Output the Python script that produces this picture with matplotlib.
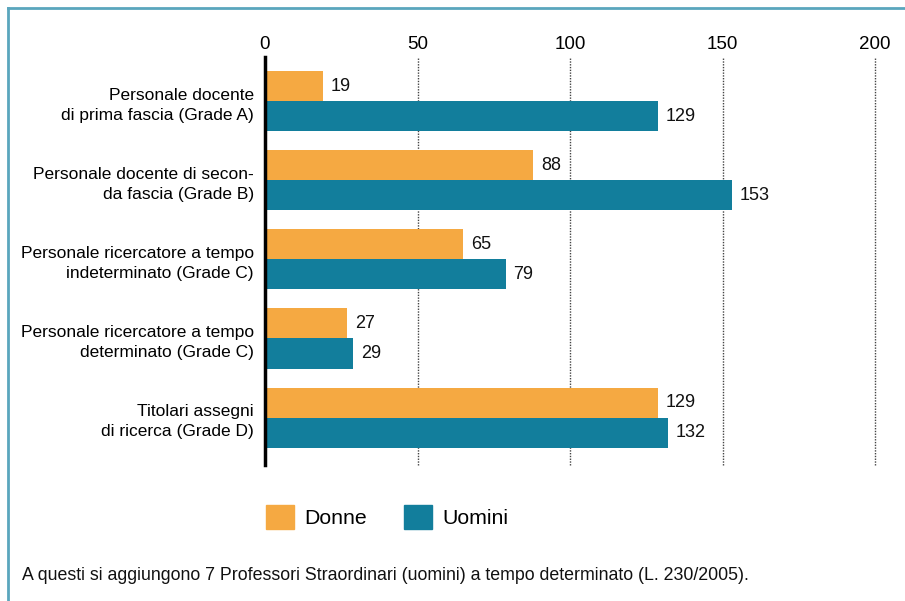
import matplotlib
matplotlib.use("Agg")
import matplotlib.pyplot as plt
from matplotlib.lines import Line2D
from matplotlib.patches import Patch
import numpy as np

plt.rcParams['font.family'] = ['Liberation Sans', 'DejaVu Sans']

categories = [
    "Personale docente\ndi prima fascia (Grade A)",
    "Personale docente di secon-\nda fascia (Grade B)",
    "Personale ricercatore a tempo\nindeterminato (Grade C)",
    "Personale ricercatore a tempo\ndeterminato (Grade C)",
    "Titolari assegni\ndi ricerca (Grade D)",
]
donne = [19, 88, 65, 27, 129]
uomini = [129, 153, 79, 29, 132]
ticks = [0, 50, 100, 150, 200]
note = "A questi si aggiungono 7 Professori Straordinari (uomini) a tempo determinato (L. 230/2005)."

c_donne = "#F5A942"
c_uomini = "#127E9C"
c_border = "#5AA6BD"

W, H = 905, 601
fig = plt.figure(figsize=(W / 100, H / 100), dpi=100)
ax = fig.add_axes([265 / W, 1 - 465 / H, 610 / W, 408 / H])

y = np.arange(len(categories))
h = 0.38
b1 = ax.barh(y - h / 2, donne, height=h, color=c_donne)
b2 = ax.barh(y + h / 2, uomini, height=h, color=c_uomini)

for bars, vals in [(b1, donne), (b2, uomini)]:
    for bar, v in zip(bars, vals):
        ax.text(v + 2.5, bar.get_y() + bar.get_height() / 2, str(v),
                va="center", ha="left", fontsize=13, color="#111111")

ax.set_xlim(0, 200)
ax.set_ylim(4.6, -0.56)
ax.xaxis.tick_top()
ax.set_xticks(ticks)
ax.set_xticklabels([str(t) for t in ticks], fontsize=13.5)
ax.tick_params(axis="x", length=0, pad=3)
ax.set_yticks(y)
ax.set_yticklabels(categories, fontsize=12.5, linespacing=1.4)
ax.tick_params(axis="y", length=0, pad=8)
for t in ax.get_yticklabels():
    t.set_ha("right")

for t in ticks[1:]:
    ax.axvline(t, color="#444444", linestyle=(0, (1, 1)), linewidth=1, zorder=0, clip_on=False)

for s in ["top", "right", "bottom"]:
    ax.spines[s].set_visible(False)
ax.spines["left"].set_linewidth(2.5)
ax.spines["left"].set_color("black")

handles = [Patch(color=c_donne, label="Donne"), Patch(color=c_uomini, label="Uomini")]
fig.legend(handles=handles, loc="center left", bbox_to_anchor=(247 / W, 1 - 517 / H),
           ncol=2, frameon=False, fontsize=15.3, handlelength=1.3, handleheight=1.3,
           handletextpad=0.5, columnspacing=1.75)

fig.text(22 / W, 1 - 575 / H, note, fontsize=12.8, va="center", ha="left", color="#111111")

fig.add_artist(Line2D([8 / W, 1], [1 - 8 / H, 1 - 8 / H], color=c_border, linewidth=2,
                      transform=fig.transFigure))
fig.add_artist(Line2D([8 / W, 8 / W], [1 - 8 / H, 0], color=c_border, linewidth=2,
                      transform=fig.transFigure))

fig.savefig("out.png", dpi=100)
